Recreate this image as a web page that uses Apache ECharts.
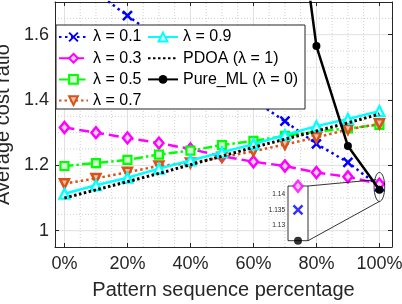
<!DOCTYPE html>
<html><head><meta charset="utf-8">
<script src="https://cdn.jsdelivr.net/npm/echarts@6/dist/echarts.min.js"></script>
<style>html,body{margin:0;padding:0;background:#fff}#c{width:402px;height:304px}</style>
</head><body><div id="c"></div><script>
// ---- data ----
const categories = [0, 10, 20, 30, 40, 50, 60, 70, 80, 90, 100];
const lambda01 = [1.80, 1.73, 1.658, 1.59, 1.525, 1.46, 1.40, 1.335, 1.266, 1.209, 1.135];
const lambda03 = [1.316, 1.300, 1.284, 1.268, 1.250, 1.228, 1.211, 1.198, 1.178, 1.165, 1.1425];
const lambda05 = [1.198, 1.207, 1.217, 1.233, 1.245, 1.262, 1.275, 1.290, 1.303, 1.313, 1.324];
const lambda07 = [1.144, 1.160, 1.179, 1.198, 1.207, 1.225, 1.243, 1.264, 1.285, 1.310, 1.327];
const lambda09 = [1.113, 1.139, 1.162, 1.190, 1.215, 1.240, 1.265, 1.293, 1.320, 1.342, 1.366];
const pdoa = [1.100, 1.125, 1.150, 1.175, 1.202, 1.228, 1.255, 1.280, 1.305, 1.330, 1.357];
const pureML = [null, null, null, null, null, null, null, 2.29, 1.565, 1.259, 1.1252];
const seriesNames = ['λ = 0.1', 'λ = 0.3', 'λ = 0.5', 'λ = 0.7', 'λ = 0.9', 'PDOA (λ = 1)', 'Pure_ML (λ = 0)'];
const xTicks = [0, 20, 40, 60, 80, 100];
const xTickLabels = ['0%', '20%', '40%', '60%', '80%', '100%'];
const yTicks = [1, 1.2, 1.4, 1.6];
const yTickLabels = ['1', '1.2', '1.4', '1.6'];
const xMinor = [5, 10, 15, 25, 30, 35, 45, 50, 55, 65, 70, 75, 85, 90, 95];
const yMinor = [1.05, 1.1, 1.15, 1.25, 1.3, 1.35, 1.45, 1.5, 1.55, 1.65];
const insetTicks = [1.13, 1.135, 1.14];
const insetTickLabels = ['1.13', '1.135', '1.14'];
const xTitle = 'Pattern sequence percentage';
const yTitle = 'Average cost ratio';

const X_MIN = -3, X_MAX = 104, Y_MIN = 0.95, Y_MAX = 1.7;
const IN_X_MIN = 99.5, IN_X_MAX = 100.5, IN_Y_MIN = 1.1252, IN_Y_MAX = 1.1426;
const FONT = "'Liberation Sans', Arial, Helvetica, sans-serif";
const AX = '#262626';

const xPath = 'path://M0,0L10,10M0,10L10,0';
const styles = [
  {color: '#0000FF', dash: [2.5, 3.5], symbol: xPath, size: 9, fill: '#0000FF', bw: 2.5, show: true},
  {color: '#FF00FF', dash: [10, 5], symbol: 'diamond', size: [9, 11], fill: '#ffd0ff', bw: 2.5, show: true},
  {color: '#00FF00', dash: [9, 3, 2.5, 3], symbol: 'rect', size: 8, fill: '#d0ffd0', bw: 2.2, show: true},
  {color: '#D95319', dash: [2.5, 3], symbol: 'triangle', size: 9, fill: '#f0c0a8', bw: 2.5, rot: 180, show: true},
  {color: '#00FFFF', dash: 'solid', symbol: 'triangle', size: 10, fill: '#d0ffff', bw: 2.2, show: true},
  {color: '#000000', dash: [2.5, 2.5], symbol: 'circle', size: 0, fill: '#000', bw: 0, show: false},
  {color: '#000000', dash: 'solid', symbol: 'circle', size: 8, fill: '#000', bw: 0, show: true}
];
const allData = [lambda01, lambda03, lambda05, lambda07, lambda09, pdoa, pureML];

const gridData = [];
xTicks.forEach(v => gridData.push([v, 0, 1]));
yTicks.forEach(v => gridData.push([v, 1, 1]));
xMinor.forEach(v => gridData.push([v, 0, 0]));
yMinor.forEach(v => gridData.push([v, 1, 0]));

const series = [{
  type: 'custom', xAxisIndex: 0, yAxisIndex: 0, silent: true, z: 0, clip: false,
  data: gridData,
  renderItem: (params, api) => {
    const v = api.value(0), dir = api.value(1), major = api.value(2);
    let p1, p2;
    if (dir === 0) { p1 = api.coord([v, Y_MIN]); p2 = api.coord([v, Y_MAX]); }
    else { p1 = api.coord([X_MIN, v]); p2 = api.coord([X_MAX, v]); }
    return {type: 'line', shape: {x1: p1[0], y1: p1[1], x2: p2[0], y2: p2[1]},
      style: {stroke: major ? '#e0e0e0' : '#cfcfcf', lineWidth: 1, lineDash: major ? null : [1, 2]}};
  }
}];

allData.forEach((d, i) => {
  const s = styles[i];
  series.push({
    name: seriesNames[i], type: 'line', xAxisIndex: 0, yAxisIndex: 0, z: 2 + i * 0.01,
    data: categories.map((c, k) => [c, d[k]]),
    symbol: s.symbol, symbolSize: s.size, symbolRotate: s.rot || 0,
    showSymbol: s.show, connectNulls: false, clip: true,
    lineStyle: {color: s.color, width: i === 5 ? 3 : 2.5, type: s.dash, cap: 'butt'},
    itemStyle: {color: s.fill, borderColor: s.color, borderWidth: s.bw},
    emphasis: {disabled: true}, animation: false
  });
});

// inset points: last values that fall inside the inset window
allData.forEach((d, i) => {
  const v = d[d.length - 1];
  if (v >= IN_Y_MIN - 0.001 && v <= IN_Y_MAX + 0.001) {
    const s = styles[i];
    series.push({
      type: 'scatter', xAxisIndex: 2, yAxisIndex: 2, z: 6, clip: false,
      data: [[categories[categories.length - 1], v]],
      symbol: s.symbol, symbolSize: s.size, symbolRotate: s.rot || 0,
      itemStyle: {color: s.fill, borderColor: s.color, borderWidth: s.bw},
      emphasis: {disabled: true}, animation: false
    });
  }
});

const tickFmt = (ticks, labels) => v => { const k = ticks.findIndex(t => Math.abs(t - v) < 1e-9); return k >= 0 ? labels[k] : ''; };
const legendItems = names => names.map(n => n === seriesNames[5] ? {name: n, itemStyle: {opacity: 0}} : {name: n});

const option = {
  animation: false,
  backgroundColor: '#fff',
  textStyle: {fontFamily: FONT},
  grid: [
    {left: 55, top: 2, width: 337, height: 245, outerBoundsMode: 'none', containLabel: false},
    {left: 288, top: 186, width: 20, height: 54.7, outerBoundsMode: 'none', containLabel: false,
     show: true, backgroundColor: '#fff', borderColor: '#000', borderWidth: 0.8, z: 1}
  ],
  xAxis: [
    {type: 'value', gridIndex: 0, min: X_MIN, max: X_MAX, position: 'bottom',
     axisLine: {show: true, onZero: false, lineStyle: {color: AX, width: 1}},
     axisTick: {show: true, inside: true, length: 4, customValues: xTicks, lineStyle: {color: AX}},
     axisLabel: {show: true, customValues: xTicks, formatter: tickFmt(xTicks, xTickLabels), margin: 8,
                 color: AX, fontSize: 18, fontFamily: FONT},
     splitLine: {show: false},
     name: xTitle, nameLocation: 'middle', nameGap: 33,
     nameTextStyle: {color: AX, fontSize: 20, fontFamily: FONT}},
    {type: 'value', gridIndex: 0, min: X_MIN, max: X_MAX, position: 'top',
     axisLine: {show: true, onZero: false, lineStyle: {color: AX, width: 1}},
     axisTick: {show: true, inside: true, length: 4, customValues: xTicks, lineStyle: {color: AX}},
     axisLabel: {show: false}, splitLine: {show: false}},
    {type: 'value', gridIndex: 1, min: IN_X_MIN, max: IN_X_MAX, position: 'bottom',
     axisLine: {show: false}, axisTick: {show: false}, axisLabel: {show: false}, splitLine: {show: false}},
  ],
  yAxis: [
    {type: 'value', gridIndex: 0, min: Y_MIN, max: Y_MAX, position: 'left',
     axisLine: {show: true, onZero: false, lineStyle: {color: AX, width: 1}},
     axisTick: {show: true, inside: true, length: 4, customValues: yTicks, lineStyle: {color: AX}},
     axisLabel: {show: true, customValues: yTicks, formatter: tickFmt(yTicks, yTickLabels), margin: 6,
                 color: AX, fontSize: 18, fontFamily: FONT},
     splitLine: {show: false},
     name: yTitle, nameLocation: 'middle', nameGap: 34,
     nameTextStyle: {color: AX, fontSize: 20, fontFamily: FONT}},
    {type: 'value', gridIndex: 0, min: Y_MIN, max: Y_MAX, position: 'right',
     axisLine: {show: true, onZero: false, lineStyle: {color: AX, width: 1}},
     axisTick: {show: true, inside: true, length: 4, customValues: yTicks, lineStyle: {color: AX}},
     axisLabel: {show: false}, splitLine: {show: false}},
    {type: 'value', gridIndex: 1, min: IN_Y_MIN, max: IN_Y_MAX, position: 'left',
     axisLine: {show: false},
     axisTick: {show: true, inside: true, length: 2, customValues: insetTicks, lineStyle: {color: AX, width: 0.6}},
     axisLabel: {show: true, customValues: insetTicks, formatter: tickFmt(insetTicks, insetTickLabels), margin: 3,
                 color: AX, fontSize: 6.5, fontFamily: FONT},
     splitLine: {show: false}}
  ],
  legend: [
    {data: legendItems(seriesNames.slice(0, 4)), orient: 'vertical', left: 58, top: 29, padding: 0,
     itemWidth: 29, itemHeight: 11, itemGap: 5.2, z: 10, selectedMode: false,
     textStyle: {fontSize: 16, lineHeight: 16, color: '#000', fontFamily: FONT}},
    {data: legendItems(seriesNames.slice(4)), orient: 'vertical', left: 147, top: 29, padding: 0,
     itemWidth: 30, itemHeight: 11, itemGap: 5.2, z: 10, selectedMode: false,
     textStyle: {fontSize: 16, lineHeight: 16, color: '#000', fontFamily: FONT}}
  ],
  series: series
};

const chart = echarts.init(document.getElementById('c'), null, {renderer: 'canvas'});
chart.setOption(option);

// legend box, ellipse around the 100% points, connector lines to the inset
const last = categories[categories.length - 1];
const c = chart.convertToPixel({gridIndex: 0}, [last, (IN_Y_MIN + IN_Y_MAX) / 2]);
const rx = 5.3, ry = 14.5;
const tl = chart.convertToPixel({gridIndex: 1}, [IN_X_MAX, IN_Y_MAX]);
const bl = chart.convertToPixel({gridIndex: 1}, [IN_X_MAX, IN_Y_MIN]);
chart.setOption({
  graphic: [
    {type: 'rect', z: 5, shape: {x: 56, y: 25, width: 249, height: 84},
     style: {fill: '#fff', stroke: AX, lineWidth: 1}, silent: true},
    {type: 'ellipse', z: 7, shape: {cx: c[0], cy: c[1], rx: rx, ry: ry},
     style: {fill: null, stroke: '#000', lineWidth: 0.8}, silent: true},
    {type: 'line', z: 7, shape: {x1: tl[0], y1: tl[1], x2: c[0] - rx * 0.6, y2: c[1] - ry * 0.5},
     style: {stroke: '#000', lineWidth: 0.8}, silent: true},
    {type: 'line', z: 7, shape: {x1: bl[0], y1: bl[1], x2: c[0], y2: c[1] + ry},
     style: {stroke: '#000', lineWidth: 0.8}, silent: true}
  ]
});
</script></body></html>
